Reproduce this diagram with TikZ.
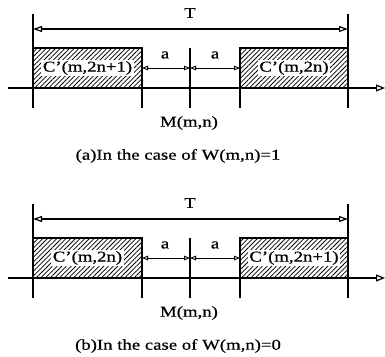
\documentclass[tikz,border=0pt]{standalone}
\usepackage{fontspec}
\setmainfont{Liberation Serif}[FakeStretch=1.25,FakeBold=0.6]
\usetikzlibrary{arrows.meta,patterns.meta,calc}
\tikzset{
  lbl/.style={font=\fontsize{15}{17}\selectfont, inner sep=1pt},
  boxlbl/.style={lbl, fill=white, inner sep=1.5pt},
  hatchbox/.style={draw, line width=1.3pt, pattern={Lines[angle=45,distance=3.3pt,line width=0.8pt]}},
  vline/.style={line width=1.4pt},
  axisline/.style={line width=1.7pt, -{Triangle[open,length=9pt,width=7pt,line width=1.2pt]}},
  tline/.style={line width=1.5pt, {Triangle[open,length=9pt,width=6pt,line width=1.2pt]}-{Triangle[open,length=9pt,width=6pt,line width=1.2pt]}},
  aline/.style={line width=0.9pt, {Triangle[open,length=6pt,width=4.5pt]}-{Triangle[open,length=6pt,width=4.5pt]}},
}
\newcommand\drawpanel[6]{%
\begin{scope}[yshift=#2]
  \coordinate (#1Ltop) at (33,14);
  \coordinate (#1Lbot) at (33,108);
  \coordinate (#1Rtop) at (348,14);
  \coordinate (#1Rbot) at (348,108);
  \coordinate (#1Ta) at (33,29);
  \coordinate (#1Tb) at (348,29);
  \coordinate (#1B1a) at (33,48);
  \coordinate (#1B1b) at (142,88);
  \coordinate (#1B2a) at (240,48);
  \coordinate (#1B2b) at (348,88);
  \coordinate (#1Pbot) at (142,108);
  \coordinate (#1Mtop) at (190,48);
  \coordinate (#1Mbot) at (190,108);
  \coordinate (#1Qbot) at (240,108);
  \coordinate (#1Ax0) at (8,88);
  \coordinate (#1Ax1) at (385,88);
  \coordinate (#1a0) at (142,68);
  \coordinate (#1a1) at (190,68);
  \coordinate (#1a2) at (240,68);
  \draw[hatchbox] (#1B1a) rectangle (#1B1b);
  \draw[hatchbox] (#1B2a) rectangle (#1B2b);
  \node[boxlbl] (#1c1) at ($(#1B1a)!0.5!(#1B1b)$) {#3};
  \node[boxlbl] (#1c2) at ($(#1B2a)!0.5!(#1B2b)$) {#4};
  \draw[axisline] (#1Ax0) -- (#1Ax1);
  \draw[vline] (#1Ltop) -- (#1Lbot);
  \draw[vline] (#1Rtop) -- (#1Rbot);
  \draw[vline] (#1B1b |- #1B1a) -- (#1Pbot);
  \draw[vline] (#1Mtop) -- (#1Mbot);
  \draw[vline] (#1B2a) -- (#1Qbot);
  \draw[tline] (#1Ta) -- (#1Tb);
  \draw[aline] (#1a0) -- (#1a1);
  \draw[aline] (#1a1) -- (#1a2);
  \node[lbl] (#1T) at (190,13) {T};
  \node[lbl] (#1la) at (165,55) {a};
  \node[lbl] (#1lb) at (215,55) {a};
  \node[lbl] (#1M) at (189,123) {M(m,n)};
  \node[lbl, font=\fontsize{15}{17}\selectfont] (#1cap) at (#6,156) {#5};
\end{scope}}
\begin{document}
\begin{tikzpicture}[x=1pt,y=-1pt]
\useasboundingbox (0,0) rectangle (385,356);
\drawpanel{p}{0pt}{C’(m,2n+1)}{C’(m,2n)}{(a)In the case of W(m,n)=1}{178}
\drawpanel{q}{-190pt}{C’(m,2n)}{C’(m,2n+1)}{(b)In the case of W(m,n)=0}{178}
\end{tikzpicture}
\end{document}
